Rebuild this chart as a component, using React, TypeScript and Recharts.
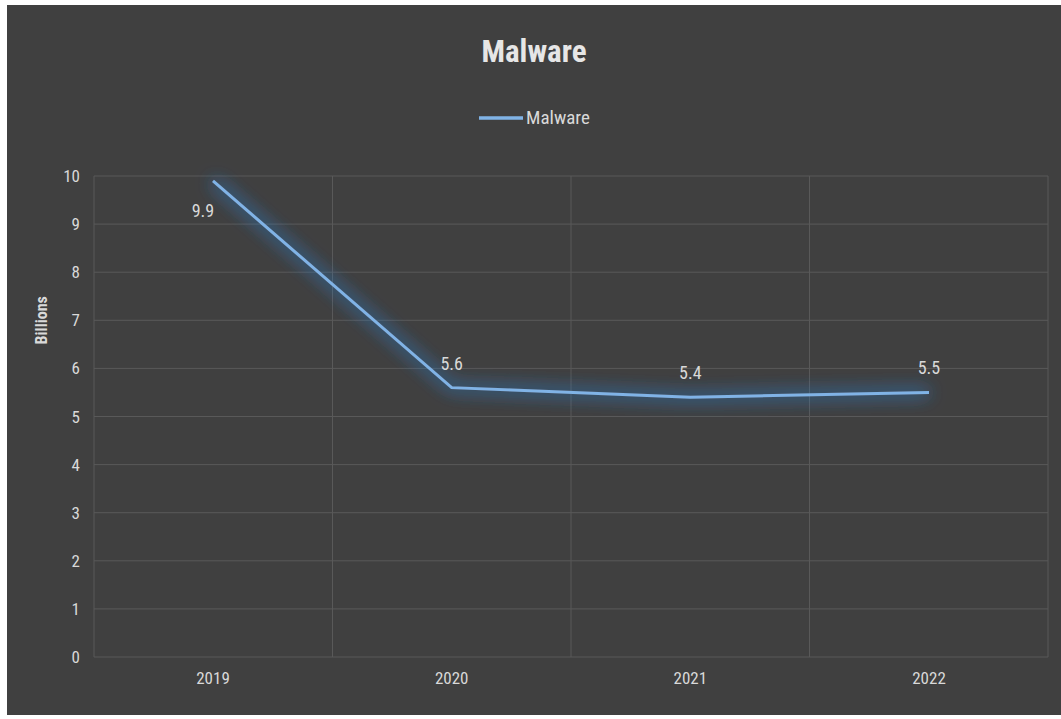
import React from 'react';
import { LineChart, Line, XAxis, YAxis, CartesianGrid, LabelList } from 'recharts';

const years = ['2019', '2020', '2021', '2022'];
const malware = [9.9, 5.6, 5.4, 5.5];
const yTicks = [0, 1, 2, 3, 4, 5, 6, 7, 8, 9, 10];

const data = years.map((year, i) => ({ year, malware: malware[i] }));

const FONT = '"Liberation Sans Narrow", "Roboto Condensed", "DejaVu Sans Condensed", sans-serif';
const TEXT = '#d9d9d9';
const LINE = '#80b3e6';

const ValueLabel = (props: any) => {
  const { x, y, value, index } = props;
  // first point sits on the top gridline, so its label goes underneath
  const below = index === 0;
  return (
    <text
      x={below ? x - 10 : x}
      y={below ? y + 36 : y - 18}
      fill={TEXT}
      fontSize={18}
      fontFamily={FONT}
      textAnchor="middle"
    >
      {value}
    </text>
  );
};

const AxisTitle = (props: any) => {
  const { viewBox } = props;
  const cx = viewBox.x + 35;
  const cy = viewBox.y + viewBox.height * 0.3;
  return (
    <text
      x={cx}
      y={cy}
      transform={`rotate(-90 ${cx} ${cy})`}
      textAnchor="middle"
      dominantBaseline="central"
      fill={TEXT}
      fontSize={16}
      fontWeight="bold"
      fontFamily={FONT}
    >
      Billions
    </text>
  );
};

export default function App() {
  return (
    <div style={{ position: 'absolute', left: 0, top: 0, width: 1061, height: 719, background: '#ffffff' }}>
      <div style={{ position: 'absolute', left: 7, top: 5, width: 1054, height: 710, background: '#404040' }}>
        <div
          style={{
            position: 'absolute',
            left: 0,
            width: 1054,
            top: 28,
            textAlign: 'center',
            fontFamily: FONT,
            fontWeight: 'bold',
            fontSize: 31,
            color: '#e6e6e6',
          }}
        >
          Malware
        </div>
        <div
          style={{
            position: 'absolute',
            left: 0,
            width: 1054,
            top: 101,
            display: 'flex',
            justifyContent: 'center',
            alignItems: 'center',
            fontFamily: FONT,
            fontSize: 19,
            color: TEXT,
          }}
        >
          <svg width={46} height={12} style={{ marginRight: 2 }}>
            <line x1={1} y1={6} x2={45} y2={6} stroke={LINE} strokeWidth={3.5} />
          </svg>
          <span>Malware</span>
        </div>
        <LineChart width={1054} height={710} data={data} margin={{ top: 171, right: 13, bottom: 0, left: 0 }}>
          <defs>
            <filter id="glow" x="-20%" y="-30%" width="140%" height="160%">
              <feGaussianBlur stdDeviation="9" result="blur" />
              <feFlood floodColor="#3a84d8" floodOpacity="1" />
              <feComposite in2="blur" operator="in" result="glowCol" />
              <feMerge>
                <feMergeNode in="glowCol" />
                <feMergeNode in="glowCol" />
                <feMergeNode in="SourceGraphic" />
              </feMerge>
            </filter>
          </defs>
          <CartesianGrid
            stroke="#595959"
            strokeWidth={1}
            verticalCoordinatesGenerator={({ offset }: any) =>
              years.map((_, i) => offset.left + (offset.width * i) / years.length).concat(offset.left + offset.width)
            }
          />
          <XAxis
            dataKey="year"
            axisLine={false}
            tickLine={false}
            tickSize={0}
            tickMargin={15}
            height={58}
            padding={{ left: 119, right: 119 }}
            tick={{ fill: TEXT, fontSize: 17, fontFamily: FONT }}
          />
          <YAxis
            domain={[0, 10]}
            ticks={yTicks}
            interval={0}
            axisLine={false}
            tickLine={false}
            tickSize={0}
            tickMargin={14}
            width={87}
            tick={{ fill: TEXT, fontSize: 17, fontFamily: FONT }}
            label={<AxisTitle />}
          />
          <Line
            type="linear"
            dataKey="malware"
            name="Malware"
            stroke={LINE}
            strokeWidth={3}
            dot={false}
            activeDot={false}
            isAnimationActive={false}
            style={{ filter: 'url(#glow)' }}
          >
            <LabelList dataKey="malware" content={<ValueLabel />} />
          </Line>
        </LineChart>
      </div>
    </div>
  );
}
